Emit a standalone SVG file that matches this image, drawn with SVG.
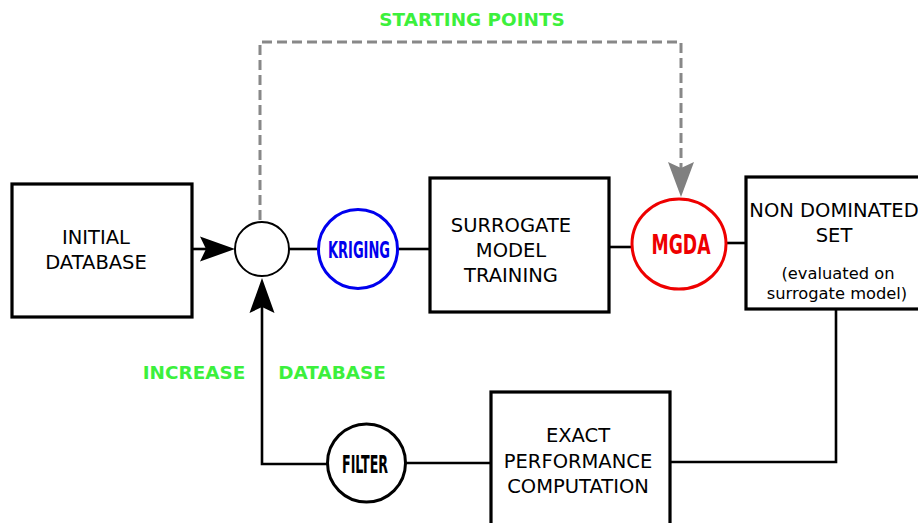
<svg xmlns="http://www.w3.org/2000/svg" width="918" height="523" viewBox="0 0 918 523">
<style>
.box{fill:#fff;stroke:#000;stroke-width:3.2}
.lbl{font-family:"DejaVu Sans",sans-serif;font-size:19.5px;fill:#000;text-anchor:middle}
.sm{font-size:16.3px}
.circ{font-family:"DejaVu Sans Condensed","DejaVu Sans",sans-serif;font-weight:bold;text-anchor:middle}
.green{font-family:"DejaVu Sans",sans-serif;font-weight:bold;font-size:18.4px;fill:#3cf03c;text-anchor:middle}
.wire{fill:none;stroke:#000;stroke-width:2.6}
.dash{fill:none;stroke:#888;stroke-width:3;stroke-dasharray:10 5}
</style>
<rect width="918" height="523" fill="#fff"/>
<g id="connectors">
<line class="wire" x1="192" y1="249" x2="215" y2="249"/>
<path d="M235,249 L200,236.5 L206,249 L200,261.5 Z" fill="#000"/>
<line class="wire" x1="289" y1="249" x2="318" y2="249"/>
<line class="wire" x1="398" y1="249" x2="429" y2="249"/>
<line class="wire" x1="609" y1="247" x2="632" y2="247"/>
<line class="wire" x1="726" y1="243" x2="746" y2="243"/>
<polyline class="wire" points="836,309 836,462 670,462"/>
<line class="wire" x1="406" y1="463" x2="491" y2="463"/>
<polyline class="wire" points="327,464 262,464 262,298"/>
<path d="M262,278 L249.5,313 L262,307 L274.5,313 Z" fill="#000"/>
<polyline class="dash" points="260,220 260,42 681,42 681,172"/>
<path d="M681,197 L668,162 L681,168 L694,162 Z" fill="#808080"/>
</g>
<g id="initial">
<rect class="box" x="12" y="184" width="180" height="133"/>
<text class="lbl" x="96" y="244">INITIAL</text>
<text class="lbl" x="96" y="269">DATABASE</text>
</g>
<g id="junction">
<circle cx="262" cy="249" r="27" fill="#fff" stroke="#000" stroke-width="2"/>
</g>
<g id="kriging">
<circle cx="358" cy="249" r="39.5" fill="#fff" stroke="#0000ee" stroke-width="3"/>
<text class="circ" x="359" y="258" font-size="23" fill="#0000ee" textLength="62" lengthAdjust="spacingAndGlyphs">KRIGING</text>
</g>
<g id="surrogate">
<rect class="box" x="430" y="178" width="179" height="134"/>
<text class="lbl" x="511" y="232">SURROGATE</text>
<text class="lbl" x="511" y="257">MODEL</text>
<text class="lbl" x="511" y="282">TRAINING</text>
</g>
<g id="mgda">
<ellipse cx="679" cy="244" rx="47" ry="45" fill="#fff" stroke="#ee0000" stroke-width="3"/>
<text class="circ" x="681" y="254" font-size="27" fill="#ee0000" textLength="59" lengthAdjust="spacingAndGlyphs">MGDA</text>
</g>
<g id="nondominated">
<rect class="box" x="746" y="177" width="178" height="132"/>
<text class="lbl" x="834" y="217">NON DOMINATED</text>
<text class="lbl" x="834" y="242">SET</text>
<text class="lbl sm" x="838" y="279">(evaluated on</text>
<text class="lbl sm" x="837" y="299">surrogate model)</text>
</g>
<g id="exact">
<rect class="box" x="491" y="392" width="179" height="140"/>
<text class="lbl" x="578" y="442">EXACT</text>
<text class="lbl" x="578" y="468">PERFORMANCE</text>
<text class="lbl" x="578" y="493">COMPUTATION</text>
</g>
<g id="filter">
<circle cx="366.5" cy="463" r="39" fill="#fff" stroke="#000" stroke-width="3"/>
<text class="circ" x="365" y="473" font-size="24" fill="#000" textLength="46" lengthAdjust="spacingAndGlyphs">FILTER</text>
</g>
<g id="labels">
<text class="green" x="472" y="26">STARTING POINTS</text>
<text class="green" x="194" y="379">INCREASE</text>
<text class="green" x="332" y="379">DATABASE</text>
</g>
</svg>
